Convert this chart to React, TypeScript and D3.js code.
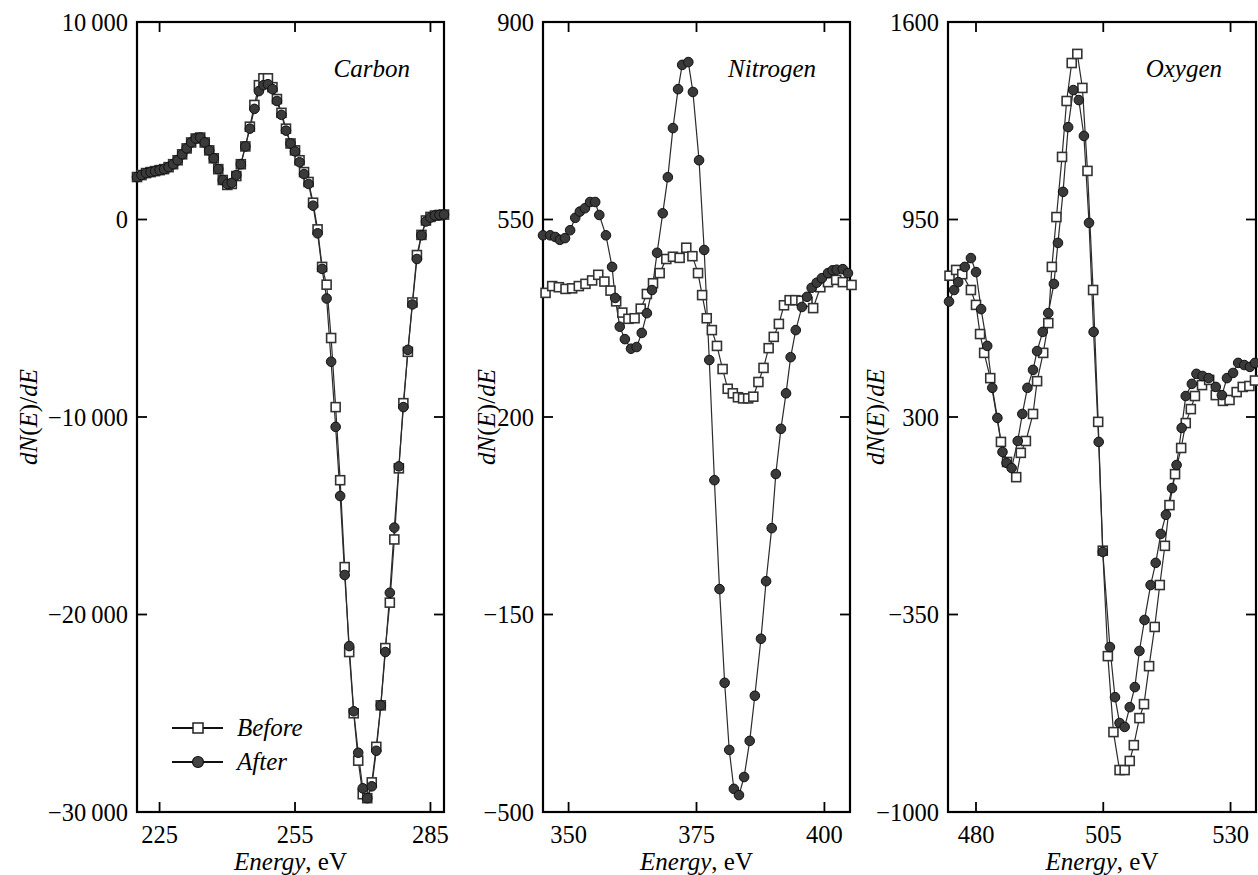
import React, { useRef, useEffect } from "react";
import * as d3 from "d3";

type Pt = [number, number]; // [energy eV, dN(E)/dE]

// ---- Carbon ----
const carbonBefore: Pt[] = [
  [220, 2150], [221, 2250], [222, 2350], [223, 2400], [224, 2450], [225, 2500], [226, 2550],
  [227, 2650], [228, 2800], [229, 3000], [230, 3300], [231, 3600], [232, 3900], [233, 4100],
  [234, 4150], [235, 3900], [236, 3500], [237, 3100], [238, 2550], [239, 2000], [240, 1750],
  [241, 1800], [242, 2200], [243, 2800], [244, 3700], [245, 4700], [246, 5800], [247, 6800],
  [248, 7150], [249, 7150], [250, 6700], [251, 6100], [252, 5400], [253, 4600], [254, 3850],
  [255, 3500], [256, 3000], [257, 2400], [258, 1900], [259, 850], [260, -500], [261, -2400],
  [262, -3300], [263, -6000], [264, -9500], [265, -13200], [266, -17600], [267, -21900],
  [268, -25000], [269, -27400], [270, -29100], [271, -29300], [272, -28500], [273, -26700],
  [274, -24600], [275, -21700], [276, -19400], [277, -16200], [278, -12600], [279, -9300],
  [280, -6700], [281, -4200], [282, -1800], [283, -780], [284, -50], [285, 130], [286, 200],
  [287, 230], [288, 250],
];
const carbonAfter: Pt[] = [
  [220, 2150], [221, 2250], [222, 2350], [223, 2400], [224, 2450], [225, 2500], [226, 2550],
  [227, 2650], [228, 2800], [229, 3000], [230, 3300], [231, 3600], [232, 3900], [233, 4100],
  [234, 4150], [235, 3900], [236, 3500], [237, 3100], [238, 2550], [239, 2000], [240, 1800],
  [241, 1850], [242, 2250], [243, 2800], [244, 3700], [245, 4600], [246, 5600], [247, 6500],
  [248, 6800], [249, 6850], [250, 6600], [251, 6000], [252, 5300], [253, 4500], [254, 3850],
  [255, 3450], [256, 2900], [257, 2300], [258, 1800], [259, 700], [260, -700], [261, -2500],
  [262, -4000], [263, -7200], [264, -10500], [265, -14000], [266, -18000], [267, -21600],
  [268, -24900], [269, -27000], [270, -28800], [271, -29300], [272, -28700], [273, -26900],
  [274, -24600], [275, -21900], [276, -18900], [277, -15600], [278, -12500], [279, -9500],
  [280, -6600], [281, -4300], [282, -2000], [283, -800], [284, -100], [285, 100], [286, 200],
  [287, 230], [288, 250],
];

// ---- Nitrogen ----
const nitrogenBefore: Pt[] = [
  [345.5, 420], [346.8, 432], [348.1, 430], [349.4, 427], [350.7, 428], [352, 432], [353.3, 436],
  [354.6, 442], [355.8, 452], [357, 440], [358.2, 424], [359.3, 405], [360.5, 385], [361.7, 374],
  [362.9, 375], [364.1, 392], [365.3, 418], [366.5, 437], [367.8, 455], [369.1, 480], [370.4, 484],
  [371.7, 482], [373, 500], [374.2, 485], [375.3, 455], [376.1, 416], [377, 375], [378, 354],
  [379, 326], [380.1, 285], [381.1, 250], [382.1, 242], [383.1, 235], [384.1, 233], [385.1, 233],
  [386.1, 236], [387.1, 262], [388.1, 287], [389.1, 322], [390.1, 342], [391.1, 365], [392.1, 398],
  [393.2, 407], [394.3, 407], [395.5, 406], [396.7, 404], [397.8, 393], [399.2, 430], [400.7, 439],
  [402.3, 443], [403.6, 439], [405.3, 434],
];
const nitrogenAfter: Pt[] = [
  [345, 522], [346.4, 522], [347.4, 519], [348.3, 514], [349.3, 517], [350.3, 531], [351.3, 553],
  [352.2, 564], [353.2, 570], [354.2, 581], [355.2, 581], [356, 558], [357.3, 522], [358.5, 466],
  [359.1, 411], [360, 360], [361, 338], [362.2, 321], [363.3, 324], [364.3, 349], [365.3, 384],
  [366.3, 425], [367.3, 491], [368.4, 561], [369.4, 625], [370.4, 712], [371.4, 781], [372.2, 824],
  [373.4, 829], [374.3, 776], [375.5, 655], [376.5, 496], [377.5, 301], [378.5, 88], [379.5, -105],
  [380.5, -271], [381.4, -390], [382.3, -459], [383.3, -470], [384.3, -438], [385.4, -374],
  [386.4, -294], [387.6, -193], [388.6, -91], [389.7, 3], [390.5, 99], [391.5, 179], [392.5, 242],
  [393.4, 306], [394.4, 354], [395.6, 395], [396.6, 413], [397.5, 429], [398.5, 438], [399.5, 446],
  [400.7, 455], [401.6, 460], [402.4, 461], [403.6, 462], [404.6, 455],
];

// ---- Oxygen ----
const oxygenBefore: Pt[] = [
  [474.8, 765], [476.1, 784], [477.3, 770], [479, 718], [480, 669], [480.8, 573], [481.6, 511],
  [482.8, 428], [484.9, 218], [486.1, 152], [487.9, 102], [488.8, 182], [489.8, 221], [491.2, 310],
  [492, 418], [493.2, 511], [494.2, 609], [494.9, 794], [495.8, 958], [496.9, 1156], [497.8, 1340],
  [498.8, 1465], [499.9, 1495], [500.9, 1383], [501.9, 1110], [503, 718], [504, 284], [504.9, -140],
  [505.9, -487], [507, -737], [508.2, -862], [509.2, -862], [510.2, -832], [511, -780],
  [512.1, -691], [513, -645], [514, -520], [515.1, -391], [516.1, -253], [517.1, -124], [518, 10],
  [519.1, 112], [520.3, 198], [521.2, 280], [522.2, 326], [523, 369], [524.4, 405], [525.8, 422],
  [527.1, 372], [528.5, 353], [529.8, 356], [531.2, 382], [532.4, 399], [533.7, 402], [534.8, 420],
];
const oxygenAfter: Pt[] = [
  [474.7, 680], [475.7, 718], [476.5, 744], [477.8, 794], [479, 823], [480, 777], [481, 655],
  [482.2, 534], [483.2, 396], [484.2, 297], [485.2, 185], [486, 149], [487, 132], [488.2, 221],
  [489.1, 310], [490.1, 396], [491.2, 455], [492, 517], [493.1, 580], [494.2, 642], [495.3, 738],
  [496.1, 873], [497.1, 1041], [498.1, 1254], [499.1, 1376], [500.2, 1343], [501.2, 1225],
  [502.2, 939], [503.1, 580], [504.1, 218], [504.9, -144], [506.3, -457], [507.3, -622],
  [508.2, -707], [509.2, -720], [510.2, -655], [511.2, -589], [512.1, -470], [513.1, -368],
  [514.3, -253], [515.3, -180], [516.3, -85], [517.3, -22], [518.5, 66], [519.4, 142], [520.4, 264],
  [521.2, 369], [522.4, 409], [523.3, 442], [524.5, 435], [525.7, 428], [527.1, 399], [528.3, 372],
  [529.3, 428], [530.5, 445], [531.5, 478], [532.7, 471], [533.8, 465], [534.8, 478],
];

const carbonXTicks = [225, 255, 285];
const carbonYTicks = [-30000, -20000, -10000, 0, 10000];
const nitrogenXTicks = [350, 375, 400];
const nitrogenYTicks = [-500, -150, 200, 550, 900];
const oxygenXTicks = [480, 505, 530];
const oxygenYTicks = [-1000, -350, 300, 950, 1600];

const panels = [
  {
    name: "Carbon", before: carbonBefore, after: carbonAfter,
    xDomain: [220, 288], yDomain: [-30000, 10000], xTicks: carbonXTicks, yTicks: carbonYTicks,
    left: 137, right: 444, yLabelX: 28, legend: true,
  },
  {
    name: "Nitrogen", before: nitrogenBefore, after: nitrogenAfter,
    xDomain: [345, 405], yDomain: [-500, 900], xTicks: nitrogenXTicks, yTicks: nitrogenYTicks,
    left: 543, right: 850, yLabelX: 486, legend: false,
  },
  {
    name: "Oxygen", before: oxygenBefore, after: oxygenAfter,
    xDomain: [474.5, 535], yDomain: [-1000, 1600], xTicks: oxygenXTicks, yTicks: oxygenYTicks,
    left: 948, right: 1256, yLabelX: 875, legend: false,
  },
];

const W = 1258;
const H = 875;
const TOP = 22;
const BOTTOM = 812;
const FONT = "'Liberation Serif', 'Times New Roman', serif";
// thin-space grouping only for five-digit numbers, as in the figure
const fmt = (v: number) =>
  Math.abs(v) >= 10000 ? d3.format(",")(v).replace(/,/g, "\u2009") : d3.format("d")(v);

export default function App() {
  const svgRef = useRef<SVGSVGElement>(null);

  useEffect(() => {
    const svg = d3.select(svgRef.current);
    svg.selectAll("*").remove();
    svg.attr("width", W).attr("height", H);
    svg.append("rect").attr("width", W).attr("height", H).attr("fill", "#fff");

    panels.forEach((p) => {
      const x = d3.scaleLinear().domain(p.xDomain).range([p.left, p.right]);
      const y = d3.scaleLinear().domain(p.yDomain).range([BOTTOM, TOP]);
      const g = svg.append("g");

      // frame
      g.append("rect")
        .attr("x", p.left).attr("y", TOP)
        .attr("width", p.right - p.left).attr("height", BOTTOM - TOP)
        .attr("fill", "none").attr("stroke", "#000").attr("stroke-width", 2.2);

      // inward ticks, all four sides
      const tl = 10;
      p.xTicks.forEach((t) => {
        g.append("line").attr("x1", x(t)).attr("x2", x(t)).attr("y1", BOTTOM).attr("y2", BOTTOM - tl)
          .attr("stroke", "#000").attr("stroke-width", 1.8);
        g.append("line").attr("x1", x(t)).attr("x2", x(t)).attr("y1", TOP).attr("y2", TOP + tl)
          .attr("stroke", "#000").attr("stroke-width", 1.8);
        g.append("text").attr("x", x(t)).attr("y", 843)
          .attr("text-anchor", "middle").attr("font-family", FONT).attr("font-size", 24.5)
          .text(fmt(t));
      });
      p.yTicks.forEach((t) => {
        g.append("line").attr("x1", p.left).attr("x2", p.left + tl).attr("y1", y(t)).attr("y2", y(t))
          .attr("stroke", "#000").attr("stroke-width", 1.8);
        g.append("line").attr("x1", p.right).attr("x2", p.right - tl).attr("y1", y(t)).attr("y2", y(t))
          .attr("stroke", "#000").attr("stroke-width", 1.8);
        g.append("text").attr("x", p.left - 9).attr("y", y(t)).attr("dy", "0.35em")
          .attr("text-anchor", "end").attr("font-family", FONT).attr("font-size", 24.5)
          .text(fmt(t));
      });

      // axis titles
      const xt = g.append("text").attr("x", (p.left + p.right) / 2).attr("y", 870)
        .attr("text-anchor", "middle").attr("font-family", FONT).attr("font-size", 25);
      xt.append("tspan").attr("font-style", "italic").text("Energy");
      xt.append("tspan").text(", eV");

      const yt = g.append("text")
        .attr("transform", `translate(${p.yLabelX},${(TOP + BOTTOM) / 2}) rotate(-90)`)
        .attr("dy", "0.35em")
        .attr("text-anchor", "middle").attr("font-family", FONT).attr("font-size", 25);
      yt.append("tspan").attr("font-style", "italic").text("dN");
      yt.append("tspan").text("(");
      yt.append("tspan").attr("font-style", "italic").text("E");
      yt.append("tspan").text(")/");
      yt.append("tspan").attr("font-style", "italic").text("dE");

      g.append("text").attr("x", p.right - 34).attr("y", 77)
        .attr("text-anchor", "end").attr("font-family", FONT).attr("font-size", 25)
        .attr("font-style", "italic").text(p.name);

      const line = d3.line<Pt>().x((d) => x(d[0])).y((d) => y(d[1]));
      [p.before, p.after].forEach((s) => {
        g.append("path").datum(s).attr("d", line)
          .attr("fill", "none").attr("stroke", "#2b2b2b").attr("stroke-width", 1.2);
      });

      // Before: open squares
      g.selectAll(".sq").data(p.before).join("rect").attr("class", "sq")
        .attr("x", (d) => x(d[0]) - 4.5).attr("y", (d) => y(d[1]) - 4.5)
        .attr("width", 9).attr("height", 9)
        .attr("fill", "#fff").attr("stroke", "#333").attr("stroke-width", 1.6);

      // After: filled circles
      g.selectAll(".ci").data(p.after).join("circle").attr("class", "ci")
        .attr("cx", (d) => x(d[0])).attr("cy", (d) => y(d[1])).attr("r", 4.8)
        .attr("fill", "#3a3a3a").attr("stroke", "#111").attr("stroke-width", 1);

      if (p.legend) {
        const items = [
          { label: "Before", y: 728, kind: "sq" },
          { label: "After", y: 762, kind: "ci" },
        ];
        items.forEach((it) => {
          g.append("line").attr("x1", 172).attr("x2", 223).attr("y1", it.y).attr("y2", it.y)
            .attr("stroke", "#111").attr("stroke-width", 1.8);
          if (it.kind === "sq") {
            g.append("rect").attr("x", 198 - 5).attr("y", it.y - 5).attr("width", 10).attr("height", 10)
              .attr("fill", "#fff").attr("stroke", "#222").attr("stroke-width", 1.5);
          } else {
            g.append("circle").attr("cx", 198).attr("cy", it.y).attr("r", 5.5)
              .attr("fill", "#444").attr("stroke", "#111").attr("stroke-width", 1.2);
          }
          g.append("text").attr("x", 237).attr("y", it.y + 8)
            .attr("font-family", FONT).attr("font-size", 25).attr("font-style", "italic")
            .text(it.label);
        });
      }
    });
  }, []);

  return <svg ref={svgRef} style={{ position: "absolute", left: 0, top: 0 }} />;
}
